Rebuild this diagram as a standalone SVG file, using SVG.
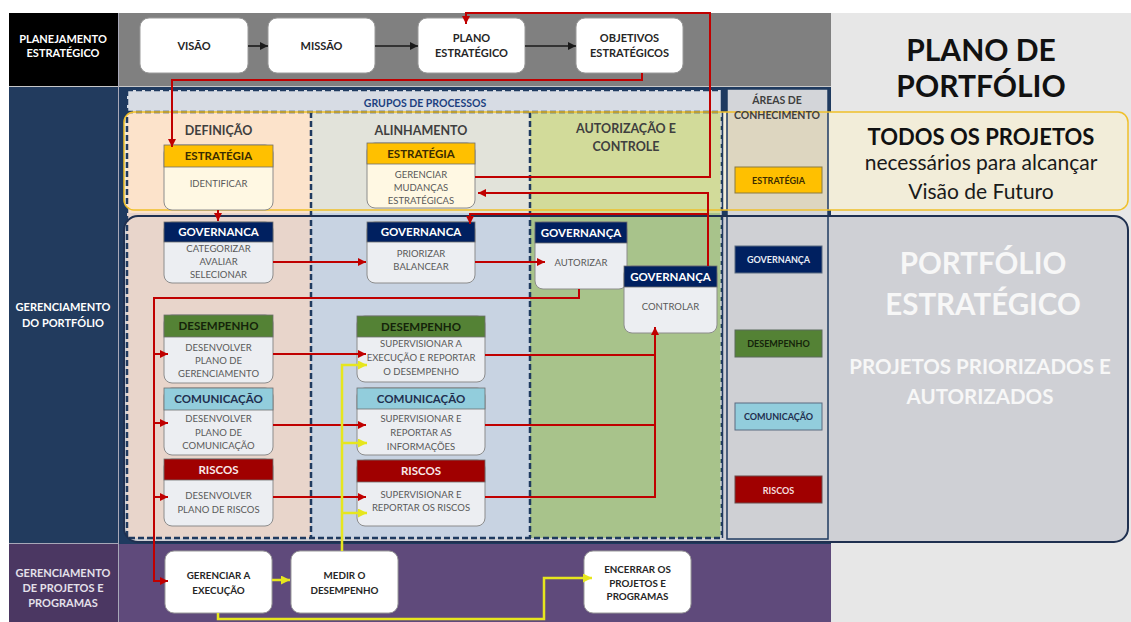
<svg xmlns="http://www.w3.org/2000/svg" width="1131" height="622" viewBox="0 0 1131 622">
<style>
text{font-family:Lato,"Open Sans","Liberation Sans",sans-serif;text-anchor:middle}
.lbl{font-weight:700;font-size:11px;fill:#ffffff}
.top{font-weight:700;font-size:11px;fill:#262626}
.hd{font-weight:700;font-size:11.5px}
.bd{font-size:9.5px;fill:#595959}
.col{font-weight:700;font-size:12.5px;fill:#3f3f3f}
.leg{font-weight:700;font-size:9px}
.bot{font-weight:700;font-size:9.8px;fill:#262626}
.box{fill:#ffffff;stroke:#9a9a9a;stroke-width:1}
.body{fill:#eceef2;stroke:#8c8c8c;stroke-width:1}
.sbody{fill:#fff8e3;stroke:#8c8c8c;stroke-width:1}
.hbar{stroke:#6f6f6f;stroke-width:0.8}
.dash{fill:none;stroke:#1f3a5f;stroke-width:2.5;stroke-dasharray:6 3}
.red{fill:none;stroke:#c00000;stroke-width:2}
.yel{fill:none;stroke:#e6e61e;stroke-width:2.5}
.blk{fill:none;stroke:#1a1a1a;stroke-width:1.6}
.ra{marker-end:url(#mr)}
.ya{marker-end:url(#my)}
.ba{marker-end:url(#mb)}
</style>
<defs>
<marker id="mr" viewBox="0 0 10 10" refX="10" refY="5" markerWidth="8" markerHeight="8" orient="auto" markerUnits="userSpaceOnUse"><path d="M0,0 L10,5 L0,10 z" fill="#c00000"/></marker>
<marker id="my" viewBox="0 0 10 10" refX="10" refY="5" markerWidth="9" markerHeight="9" orient="auto" markerUnits="userSpaceOnUse"><path d="M0,0 L10,5 L0,10 z" fill="#e6e61e"/></marker>
<marker id="mb" viewBox="0 0 10 10" refX="10" refY="5" markerWidth="8" markerHeight="8" orient="auto" markerUnits="userSpaceOnUse"><path d="M0,0 L10,5 L0,10 z" fill="#1a1a1a"/></marker>
</defs>

<g id="background">
<rect x="0" y="0" width="1131" height="622" fill="#ffffff"/>
<rect x="9" y="13" width="110" height="73" fill="#000000"/>
<rect x="119" y="13" width="712" height="73" fill="#808080"/>
<rect x="9" y="87" width="110" height="457" fill="#223b5e"/>
<rect x="119" y="87" width="712" height="457" fill="#1f3a5f"/>
<rect x="9" y="544" width="110" height="78" fill="#4b3762"/>
<rect x="119" y="544" width="712" height="78" fill="#5f4a7b"/>
<rect x="831" y="13" width="300" height="609" fill="#e7e7e7"/>
<line x1="9" y1="86.5" x2="831" y2="86.5" stroke="#c8c8c8" stroke-width="1"/>
<line x1="118.5" y1="13" x2="118.5" y2="622" stroke="#a8a8b8" stroke-width="1"/>
<line x1="9" y1="543.5" x2="119" y2="543.5" stroke="#a8a8b8" stroke-width="1"/>
<!-- band fills -->
<rect x="124" y="112" width="1004" height="98" rx="10" fill="#f2edd9"/>
<rect x="124" y="216" width="1004" height="326" rx="14" fill="#cfd0d5"/>
<!-- process groups -->
<rect x="127" y="90" width="595" height="22" fill="#d7dce4"/>
<rect x="127" y="112" width="184" height="101" fill="#fce3cb"/>
<rect x="311" y="112" width="219" height="101" fill="#e2e3da"/>
<rect x="530" y="112" width="192" height="101" fill="#d2db9a"/>
<rect x="127" y="213" width="184" height="325" fill="#e8d5cb"/>
<rect x="311" y="213" width="219" height="325" fill="#c8d3e2"/>
<rect x="530" y="213" width="192" height="325" fill="#a8c38b"/>
<!-- areas column -->
<rect x="727" y="89" width="101" height="450" fill="#d3d5d9" stroke="#1f3a5f" stroke-width="1.5"/>
<rect x="728" y="112" width="99" height="98" fill="#ddd6c0"/>
<rect x="728" y="216" width="99" height="322" fill="#cfd0d4"/>
<!-- dashed frames -->
<path class="dash" d="M127,90 H722 M127,112 H722 M127,90 V538 H722 M311,112 V538 M530,112 V538"/>
<path d="M722,90 V538" fill="none" stroke="#1f3a5f" stroke-width="2.5"/>
<path d="M721,112 V538" fill="none" stroke="#f2f2f2" stroke-width="1.2" stroke-dasharray="5 4"/>
<!-- band outlines -->
<rect x="124" y="112" width="1004" height="98" rx="10" fill="none" stroke="#f0c02a" stroke-width="1.5"/>
<rect x="124" y="216" width="1004" height="326" rx="14" fill="none" stroke="#1f3050" stroke-width="2"/>
</g>

<g id="labels">
<text class="lbl" x="63" y="43">PLANEJAMENTO</text>
<text class="lbl" x="63" y="57">ESTRATÉGICO</text>
<text class="lbl" x="63" y="311">GERENCIAMENTO</text>
<text class="lbl" x="63" y="327">DO PORTFÓLIO</text>
<text class="lbl" x="63" y="577" style="fill:#e4e0ea">GERENCIAMENTO</text>
<text class="lbl" x="63" y="592" style="fill:#e4e0ea">DE PROJETOS E</text>
<text class="lbl" x="63" y="607" style="fill:#e4e0ea">PROGRAMAS</text>
<text x="425" y="106.5" style="font-weight:700;font-size:10.5px;fill:#203f7f">GRUPOS DE PROCESSOS</text>
<text class="col" x="218.5" y="134.5">DEFINIÇÃO</text>
<text class="col" x="421" y="134.5">ALINHAMENTO</text>
<text class="col" x="626" y="133">AUTORIZAÇÃO E</text>
<text class="col" x="626" y="150.5">CONTROLE</text>
<text x="777" y="104" style="font-weight:700;font-size:10.5px;fill:#3f3f3f">ÁREAS DE</text>
<text x="777" y="119" style="font-weight:700;font-size:10.5px;fill:#3f3f3f">CONHECIMENTO</text>
<text x="981" y="61" style="font-weight:700;font-size:30px;fill:#111111">PLANO DE</text>
<text x="981" y="97" style="font-weight:700;font-size:30px;fill:#111111">PORTFÓLIO</text>
<text x="981" y="145" style="font-weight:700;font-size:22px;fill:#111111">TODOS OS PROJETOS</text>
<text x="981" y="170" style="font-size:21px;fill:#1a1a1a">necessários para alcançar</text>
<text x="981" y="199" style="font-size:21px;fill:#1a1a1a">Visão de Futuro</text>
<text x="983" y="274" style="font-weight:700;font-size:29.5px;fill:#f7f7f7">PORTFÓLIO</text>
<text x="983" y="315" style="font-weight:700;font-size:29.5px;fill:#f7f7f7">ESTRATÉGICO</text>
<text x="980" y="374" style="font-weight:700;font-size:20.5px;fill:#f7f7f7">PROJETOS PRIORIZADOS E</text>
<text x="980" y="404" style="font-weight:700;font-size:20.5px;fill:#f7f7f7">AUTORIZADOS</text>
</g>

<g id="legend">
<g id="leg-estrategia"><rect x="735" y="167" width="87" height="26" fill="#ffc000" stroke="#8a7a40" stroke-width="1"/><text class="leg" x="778.5" y="183.5" fill="#3a2c00">ESTRATÉGIA</text></g>
<g id="leg-governanca"><rect x="735" y="246" width="87" height="27" fill="#002060" stroke="#5a6a80" stroke-width="1"/><text class="leg" x="778.5" y="263" fill="#e8ecf4">GOVERNANÇA</text></g>
<g id="leg-desempenho"><rect x="735" y="330" width="87" height="27" fill="#548235" stroke="#5a6a5a" stroke-width="1"/><text class="leg" x="778.5" y="346.5" fill="#14240a">DESEMPENHO</text></g>
<g id="leg-comunicacao"><rect x="735" y="403" width="87" height="27" fill="#92cddc" stroke="#5a6a80" stroke-width="1"/><text class="leg" x="778.5" y="419.5" fill="#1f2f4f">COMUNICAÇÃO</text></g>
<g id="leg-riscos"><rect x="735" y="476" width="87" height="27" fill="#a00000" stroke="#6a4a4a" stroke-width="1"/><text class="leg" x="778.5" y="493.5" fill="#f4dede">RISCOS</text></g>
</g>

<g id="n-visao"><rect class="box" x="140" y="18" width="108" height="55" rx="9"/><text class="top" x="194" y="50">VISÃO</text></g>
<g id="n-missao"><rect class="box" x="268" y="18" width="107" height="55" rx="9"/><text class="top" x="321.5" y="50">MISSÃO</text></g>
<g id="n-plano"><rect class="box" x="418" y="18" width="107" height="55" rx="9"/><text class="top" x="471.5" y="42">PLANO</text><text class="top" x="471.5" y="57">ESTRATÉGICO</text></g>
<g id="n-objetivos"><rect class="box" x="576" y="18" width="107" height="55" rx="9"/><text class="top" x="629.5" y="42">OBJETIVOS</text><text class="top" x="629.5" y="57">ESTRATÉGICOS</text></g>

<g id="n-def-estrategia"><rect class="sbody" x="164" y="145" width="109" height="65" rx="8"/><rect class="hbar" x="164" y="145" width="109" height="22" fill="#ffc000"/><text class="hd" x="218.5" y="160" fill="#3a2c00">ESTRATÉGIA</text><text class="bd" x="218.5" y="186.5">IDENTIFICAR</text></g>
<g id="n-def-governanca"><rect class="body" x="164" y="222" width="109" height="61" rx="8"/><rect class="hbar" x="164" y="222" width="109" height="20" fill="#002060"/><text class="hd" x="218.5" y="236" fill="#ffffff">GOVERNANCA</text><text class="bd" x="218.5" y="251.5">CATEGORIZAR</text><text class="bd" x="218.5" y="265">AVALIAR</text><text class="bd" x="218.5" y="278">SELECIONAR</text></g>
<g id="n-def-desempenho"><rect class="body" x="164" y="315" width="109" height="68" rx="8"/><rect class="hbar" x="164" y="315" width="109" height="22" fill="#548235"/><text class="hd" x="218.5" y="330" fill="#14240a">DESEMPENHO</text><text class="bd" x="218.5" y="350.5">DESENVOLVER</text><text class="bd" x="218.5" y="363.5">PLANO DE</text><text class="bd" x="218.5" y="376.5">GERENCIAMENTO</text></g>
<g id="n-def-comunicacao"><rect class="body" x="164" y="388" width="109" height="67" rx="8"/><rect class="hbar" x="164" y="388" width="109" height="22" fill="#92cddc"/><text class="hd" x="218.5" y="403" fill="#1f2f4f">COMUNICAÇÃO</text><text class="bd" x="218.5" y="422">DESENVOLVER</text><text class="bd" x="218.5" y="435.5">PLANO DE</text><text class="bd" x="218.5" y="449">COMUNICAÇÃO</text></g>
<g id="n-def-riscos"><rect class="body" x="164" y="459" width="109" height="67" rx="8"/><rect class="hbar" x="164" y="459" width="109" height="21" fill="#a00000"/><text class="hd" x="218.5" y="474" fill="#f8e8e8">RISCOS</text><text class="bd" x="218.5" y="499">DESENVOLVER</text><text class="bd" x="218.5" y="512.5">PLANO DE RISCOS</text></g>

<g id="n-alin-estrategia"><rect class="sbody" x="367" y="143" width="108" height="65" rx="8"/><rect class="hbar" x="367" y="143" width="108" height="21" fill="#ffc000"/><text class="hd" x="421" y="158" fill="#3a2c00">ESTRATÉGIA</text><text class="bd" x="421" y="177.5">GERENCIAR</text><text class="bd" x="421" y="190.5">MUDANÇAS</text><text class="bd" x="421" y="203.5">ESTRATÉGICAS</text></g>
<g id="n-alin-governanca"><rect class="body" x="367" y="222" width="108" height="61" rx="8"/><rect class="hbar" x="367" y="222" width="108" height="20" fill="#002060"/><text class="hd" x="421" y="236" fill="#ffffff">GOVERNANCA</text><text class="bd" x="421" y="256.5">PRIORIZAR</text><text class="bd" x="421" y="269.5">BALANCEAR</text></g>
<g id="n-alin-desempenho"><rect class="body" x="357" y="316" width="128" height="66" rx="8"/><rect class="hbar" x="357" y="316" width="128" height="21" fill="#548235"/><text class="hd" x="421" y="331" fill="#14240a">DESEMPENHO</text><text class="bd" x="421" y="346.5">SUPERVISIONAR A</text><text class="bd" x="421" y="360.5">EXECUÇÃO E REPORTAR</text><text class="bd" x="421" y="374.5">O DESEMPENHO</text></g>
<g id="n-alin-comunicacao"><rect class="body" x="357" y="388" width="128" height="67" rx="8"/><rect class="hbar" x="357" y="388" width="128" height="21" fill="#92cddc"/><text class="hd" x="421" y="403" fill="#1f2f4f">COMUNICAÇÃO</text><text class="bd" x="421" y="421.5">SUPERVISIONAR E</text><text class="bd" x="421" y="436">REPORTAR AS</text><text class="bd" x="421" y="449.5">INFORMAÇÕES</text></g>
<g id="n-alin-riscos"><rect class="body" x="357" y="460" width="128" height="66" rx="8"/><rect class="hbar" x="357" y="460" width="128" height="22" fill="#a00000"/><text class="hd" x="421" y="475" fill="#f8e8e8">RISCOS</text><text class="bd" x="421" y="497.5">SUPERVISIONAR E</text><text class="bd" x="421" y="510.5">REPORTAR OS RISCOS</text></g>

<g id="n-autorizar"><rect class="body" x="535" y="222" width="92" height="67" rx="8"/><rect class="hbar" x="535" y="222" width="92" height="21" fill="#002060"/><text class="hd" x="581" y="237" fill="#ffffff">GOVERNANÇA</text><text class="bd" x="581" y="265.5">AUTORIZAR</text></g>
<g id="n-controlar"><rect class="body" x="624" y="266" width="93" height="67" rx="8"/><rect class="hbar" x="624" y="266" width="93" height="21" fill="#002060"/><text class="hd" x="670.5" y="281" fill="#ffffff">GOVERNANÇA</text><text class="bd" x="670.5" y="309.5">CONTROLAR</text></g>

<g id="n-gerenciar"><rect class="box" x="165" y="551" width="107" height="62" rx="9"/><text class="bot" x="218.5" y="578.5">GERENCIAR A</text><text class="bot" x="218.5" y="593.5">EXECUÇÃO</text></g>
<g id="n-medir"><rect class="box" x="291" y="551" width="107" height="62" rx="9"/><text class="bot" x="344.5" y="578.5">MEDIR O</text><text class="bot" x="344.5" y="593.5">DESEMPENHO</text></g>
<g id="n-encerrar"><rect class="box" x="584" y="551" width="107" height="62" rx="9"/><text class="bot" x="637.5" y="572.5">ENCERRAR OS</text><text class="bot" x="637.5" y="586.5">PROJETOS E</text><text class="bot" x="637.5" y="600">PROGRAMAS</text></g>

<g id="connectors">
<path class="blk ba" d="M248,46 H268"/>
<path class="blk ba" d="M375,46 H418"/>
<path class="blk ba" d="M525,46 H576"/>
<path class="red ra" d="M475,177 H710 V13 H466 V24"/>
<path class="red ra" d="M642,73 V80 H172 V147"/>
<path class="red ra" d="M708,266 V193 H478"/>
<path class="red ra" d="M708,214 H470 V224"/>
<path class="red ra" d="M218,210 V221"/>
<path class="red ra" d="M273,262 H366"/>
<path class="red ra" d="M475,262 H545"/>
<path class="red ra" d="M579,289 V298 H154 V581 H168"/>
<path class="red ra" d="M154,354 H168"/>
<path class="red ra" d="M154,423 H168"/>
<path class="red ra" d="M154,497 H168"/>
<path class="red ra" d="M273,354 H366"/>
<path class="red ra" d="M273,425 H366"/>
<path class="red ra" d="M273,497 H366"/>
<path class="red" d="M485,355 H655"/>
<path class="red" d="M485,425 H655"/>
<path class="red ra" d="M485,497 H655 V327"/>
<path class="yel ya" d="M272,580 H290"/>
<path class="yel ya" d="M342,551 V365 H367"/>
<path class="yel ya" d="M342,443 H367"/>
<path class="yel ya" d="M342,513 H367"/>
<path class="yel ya" d="M218,613 V619 H544 V578 H592"/>
</g>
</svg>
